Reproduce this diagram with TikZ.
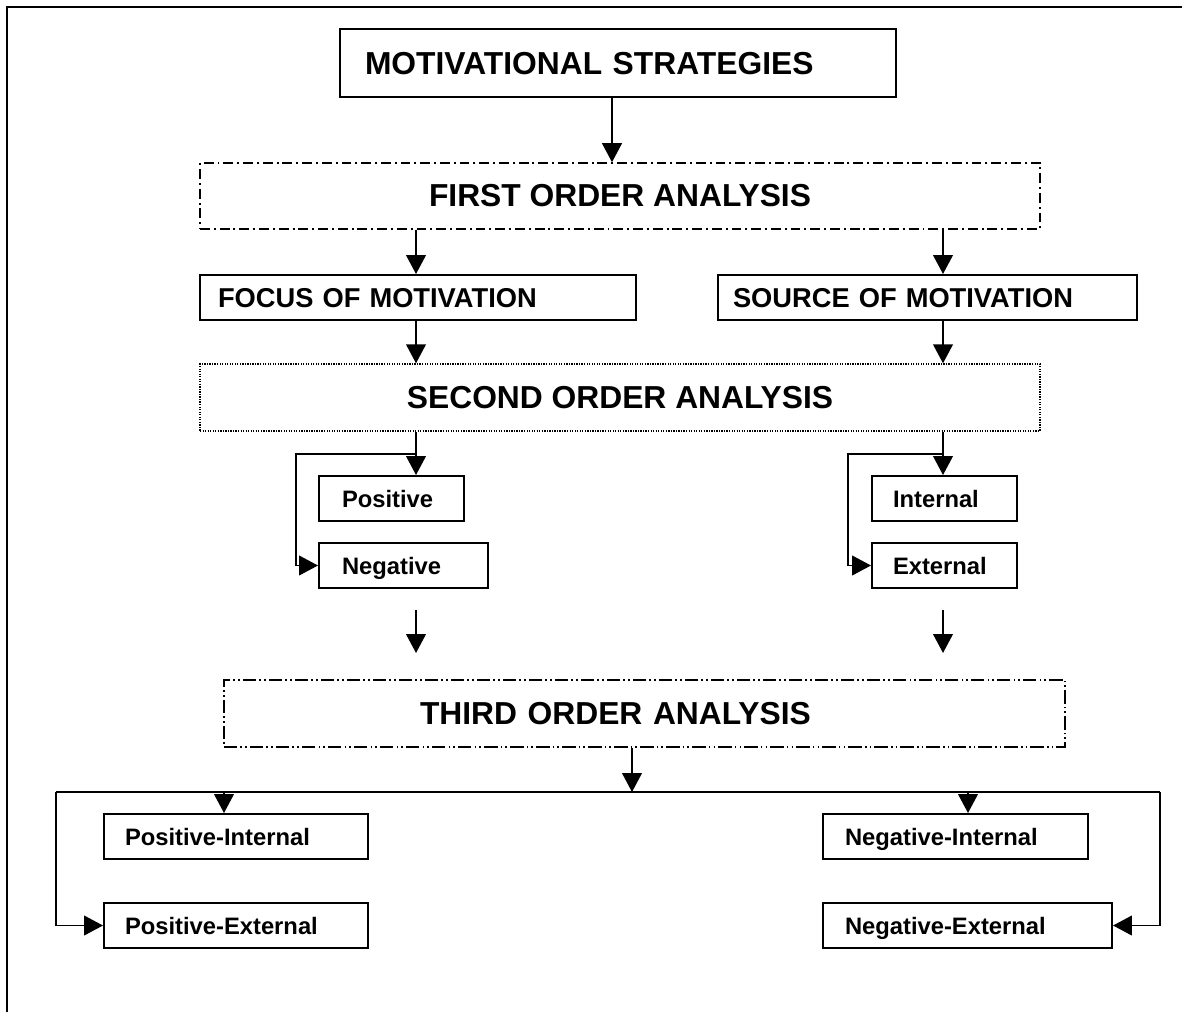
\documentclass[tikz,border=0pt]{standalone}
\usepackage{fontspec}
\setmainfont{Liberation Sans}
\usetikzlibrary{arrows.meta}
\newdimen\px \px=0.025cm

\begin{document}
\begin{tikzpicture}[x=0.025cm, y=-0.025cm,
    solidbox/.style={draw, line width=1.4pt, align=left, inner ysep=0pt, text depth=0pt},
    dashdotbox/.style={draw, line width=1.1pt, inner ysep=0pt,
        dash pattern=on 7pt off 2.8pt on 1.4pt off 2.8pt},
    dotbox/.style={draw, line width=1pt, inner ysep=0pt, dash pattern=on 0.9pt off 0.9pt},
    dashdotdotbox/.style={draw, line width=1.1pt, inner ysep=0pt,
        dash pattern=on 9.5pt off 2.2pt on 1.2pt off 2.2pt on 1.2pt off 2.2pt},
    bigfont/.style={font=\bfseries\fontsize{22.6}{27}\selectfont},
    midfont/.style={font=\bfseries\fontsize{19.4}{23}\selectfont},
    smallfont/.style={font=\bfseries\fontsize{16.9}{20}\selectfont},
    link/.style={line width=1.4pt},
    arrow/.style={link, -{Triangle[width=14pt,length=13.5pt]}}]
    \useasboundingbox (0,0) rectangle (1182,1012);

    % Frame
    \draw[link] (7,1012) -- (7,7) -- (1182,7);

    % Columns
    \coordinate (cm) at (612,0);
    \coordinate (cl) at (416,0);
    \coordinate (cr) at (943,0);
    \coordinate (c3l) at (224,0);
    \coordinate (c3r) at (968,0);

    % Boxes
    \node[solidbox, bigfont, minimum width=556\px, minimum height=68\px,
        text width=506\px, inner xsep=25\px] (strategies) at (618,63) {MOTIVATIONAL STRATEGIES};
    \node[dashdotbox, bigfont, minimum width=840\px, minimum height=66\px]
        (first) at (620,196) {FIRST ORDER ANALYSIS};
    \node[solidbox, midfont, minimum width=436\px, minimum height=45\px,
        text width=400\px, inner xsep=18\px] (focus) at (418,297.5) {FOCUS OF MOTIVATION};
    \node[solidbox, midfont, minimum width=419\px, minimum height=45\px,
        text width=389\px, inner xsep=15\px] (source) at (927.5,297.5) {SOURCE OF MOTIVATION};
    \node[dotbox, bigfont, minimum width=840\px, minimum height=67\px]
        (second) at (620,397.5) {SECOND ORDER ANALYSIS};
    \node[solidbox, smallfont, minimum width=145\px, minimum height=45\px,
        text width=99\px, inner xsep=23\px] (positive) at (391.5,498.5) {Positive};
    \node[solidbox, smallfont, minimum width=169\px, minimum height=45\px,
        text width=123\px, inner xsep=23\px] (negative) at (403.5,565.5) {Negative};
    \node[solidbox, smallfont, minimum width=145\px, minimum height=45\px,
        text width=103\px, inner xsep=21\px] (internal) at (944.5,498.5) {Internal};
    \node[solidbox, smallfont, minimum width=145\px, minimum height=45\px,
        text width=103\px, inner xsep=21\px] (external) at (944.5,565.5) {External};
    \node[dashdotdotbox, bigfont, align=left, minimum width=841\px, minimum height=67\px,
        text width=449\px, inner xsep=196\px] (third) at (644.5,713.5) {THIRD ORDER ANALYSIS};
    \node[solidbox, smallfont, minimum width=264\px, minimum height=45\px,
        text width=222\px, inner xsep=21\px] (posint) at (236,836.5) {Positive-Internal};
    \node[solidbox, smallfont, minimum width=264\px, minimum height=45\px,
        text width=222\px, inner xsep=21\px] (posext) at (236,925.5) {Positive-External};
    \node[solidbox, smallfont, minimum width=265\px, minimum height=45\px,
        text width=221\px, inner xsep=22\px] (negint) at (955.5,836.5) {Negative-Internal};
    \node[solidbox, smallfont, minimum width=289\px, minimum height=45\px,
        text width=245\px, inner xsep=22\px] (negext) at (967.5,925.5) {Negative-External};

    % First and second order
    \draw[arrow] (strategies.south -| cm) -- (first.north -| cm);
    \draw[arrow] (first.south -| cl) -- (focus.north -| cl);
    \draw[arrow] (first.south -| cr) -- (source.north -| cr);
    \draw[arrow] (focus.south -| cl) -- (second.north -| cl);
    \draw[arrow] (source.south -| cr) -- (second.north -| cr);

    % Branches under the second order
    \coordinate (splitl) at (416,454);
    \coordinate (bendl) at (296,565.5);
    \coordinate (splitr) at (943,454);
    \coordinate (bendr) at (848,565.5);
    \draw[arrow] (second.south -| cl) -- (positive.north -| cl);
    \draw[arrow] (splitl) -| (bendl) -- (negative.west);
    \draw[arrow] (second.south -| cr) -- (internal.north -| cr);
    \draw[arrow] (splitr) -| (bendr) -- (external.west);

    % Loose arrows
    \coordinate (dl1) at (416,610);
    \coordinate (dl2) at (416,653);
    \coordinate (dr1) at (943,610);
    \coordinate (dr2) at (943,653);
    \draw[arrow] (dl1) -- (dl2);
    \draw[arrow] (dr1) -- (dr2);

    % Third order
    \coordinate (hub) at (632,792);
    \coordinate (busl) at (56,792);
    \coordinate (busr) at (1160,792);
    \draw[arrow] (third.south -| hub) -- (hub);
    \draw[link] (busl) -- (busr);
    \draw[arrow] (hub -| c3l) -- (posint.north -| c3l);
    \draw[arrow] (hub -| c3r) -- (negint.north -| c3r);
    \draw[arrow] (busl) |- (posext.west);
    \draw[arrow] (busr) |- (negext.east);
\end{tikzpicture}
\end{document}
